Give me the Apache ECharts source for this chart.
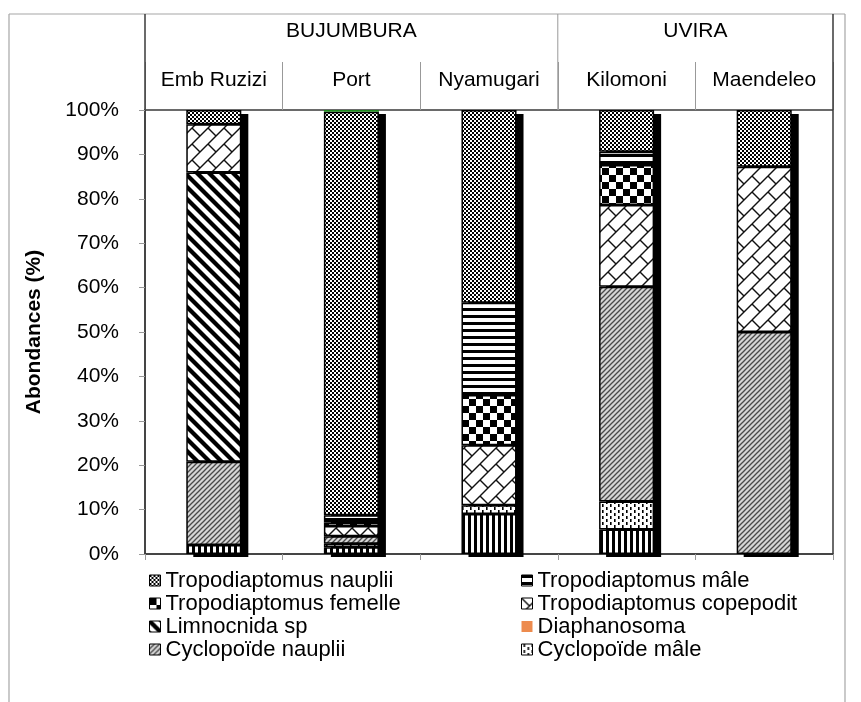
<!DOCTYPE html>
<html><head><meta charset="utf-8">
<script src="https://cdn.jsdelivr.net/npm/echarts@6/dist/echarts.min.js"></script>
<style>html,body{margin:0;padding:0;background:#fff}#c{width:861px;height:702px}</style>
</head><body><div id="c"></div>
<script>
// ---- data (percent) ----
const categories = ['Emb Ruzizi', 'Port', 'Nyamugari', 'Kilomoni', 'Maendeleo'];
const groups = ['BUJUMBURA', 'UVIRA'];
const groupSizes = [3, 2];
const autresCyclo = [2.0, 1.5, 9.0, 5.5, 0];          // bottom, vertical lines (not in legend)
const cyclopoideMale = [0, 0.8, 2.0, 6.3, 0];
const cyclopoideNauplii = [18.8, 1.7, 0, 48.4, 50.0];
const diaphanosoma = [0, 0, 0, 0, 0];
const limnocnida = [65.1, 0, 0, 0, 0];
const tropoCopepodit = [10.9, 2.3, 13.5, 18.4, 37.2];
const tropoFemelle = [0, 0.8, 11.3, 9.0, 0];
const tropoMale = [0, 1.6, 20.8, 3.0, 0];
const tropoNauplii = [3.2, 90.9, 43.4, 9.4, 12.8];
const autres = [0, 0.4, 0, 0, 0];                     // thin green line on top of Port

// ---- patterns ----
function pat(w, h, draw, bg) {
  const c = document.createElement('canvas'); c.width = w; c.height = h;
  const g = c.getContext('2d'); g.fillStyle = bg || '#fff'; g.fillRect(0, 0, w, h);
  draw(g); return { image: c, repeat: 'repeat' };
}
const P = {
  smallChecker: pat(4, 4, g => { g.fillStyle = '#000'; g.fillRect(0, 0, 2, 2); g.fillRect(2, 2, 2, 2); }),
  horiz: pat(4, 7, g => { g.fillStyle = '#000'; g.fillRect(0, 0, 4, 3); }),
  bigChecker: pat(14, 14, g => { g.fillStyle = '#000'; g.fillRect(0, 0, 7, 7); g.fillRect(7, 7, 7, 7); }),
  brick: pat(16, 16, g => {
    g.strokeStyle = '#111'; g.lineWidth = 1.4;
    for (const dx of [-16, 0, 16]) for (const dy of [-16, 0, 16]) {
      g.beginPath(); g.moveTo(0 + dx, 16 + dy); g.lineTo(16 + dx, 0 + dy); g.stroke();
      g.beginPath(); g.moveTo(0 + dx, 0 + dy); g.lineTo(8 + dx, 8 + dy); g.stroke();
    }
  }),
  limn: pat(12, 12, g => {
    g.strokeStyle = '#000'; g.lineWidth = 4.2;
    for (const k of [-1, 0, 1]) { g.beginPath(); g.moveTo(k * 12 - 3, -3); g.lineTo(k * 12 + 15, 15); g.stroke(); }
  }),
  grayDiag: pat(5, 5, g => {
    g.strokeStyle = '#4a4a4a'; g.lineWidth = 1.3;
    for (const k of [-1, 0, 1]) { g.beginPath(); g.moveTo(k * 5 - 1, 6); g.lineTo(k * 5 + 6, -1); g.stroke(); }
  }, '#d6d6d6'),
  dotted: pat(8, 6, g => { g.fillStyle = '#000'; g.fillRect(2, 0, 1.6, 3); g.fillRect(6, 3, 1.6, 3); }),
  vert: pat(6, 4, g => { g.fillStyle = '#000'; g.fillRect(0, 0, 3, 4); })
};

const nz = a => a.map(v => v === 0 ? '-' : v);
function bar(name, data, color, extra) {
  return Object.assign({
    name, type: 'bar', stack: 'total', barWidth: '40%', data: nz(data), z: 3,
    itemStyle: { color, borderColor: '#000', borderWidth: 1.5 }
  }, extra || {});
}
const totals = categories.map((_, i) =>
  [autresCyclo, cyclopoideMale, cyclopoideNauplii, diaphanosoma, limnocnida, tropoCopepodit, tropoFemelle, tropoMale, tropoNauplii, autres]
    .reduce((s, a) => s + a[i], 0));

const FONT = 'Liberation Sans, Arial, sans-serif';
const chart = echarts.init(document.getElementById('c'));
const legendCommon = {
  orient: 'vertical', top: 569, itemWidth: 11, itemHeight: 11, itemGap: 0, padding: 0, icon: 'rect',
  textStyle: { fontSize: 22, lineHeight: 23, color: '#000', fontFamily: FONT },
  itemStyle: { borderColor: '#000', borderWidth: 1 }
};
chart.setOption({
  animation: false,
  backgroundColor: '#fff',
  textStyle: { fontFamily: FONT },
  grid: { left: 145, right: 28, top: 110, bottom: 148, show: true, borderColor: '#3a3a3a', borderWidth: 1.5, backgroundColor: 'transparent' },
  legend: [
    Object.assign({}, legendCommon, { left: 149, data: ['Tropodiaptomus nauplii', 'Tropodiaptomus femelle', 'Limnocnida sp', 'Cyclopoïde nauplii'] }),
    Object.assign({}, legendCommon, { left: 521, data: ['Tropodiaptomus mâle', 'Tropodiaptomus copepodit', { name: 'Diaphanosoma', itemStyle: { borderWidth: 0 } }, 'Cyclopoïde mâle'] })
  ],
  xAxis: [
    { type: 'category', data: categories, position: 'bottom',
      axisLine: { show: true, lineStyle: { color: '#3a3a3a', width: 1.5 } },
      axisTick: { show: true, length: 6, interval: 0, lineStyle: { color: '#999' } },
      axisLabel: { show: false } },
    { type: 'category', data: categories, position: 'top',
      axisLine: { show: false },
      axisTick: { show: true, length: 48, interval: 0, lineStyle: { color: '#999', width: 1 } },
      axisLabel: { show: true, interval: 0, fontSize: 21, color: '#000', margin: 18, lineHeight: 24, fontFamily: FONT } }
  ],
  yAxis: {
    type: 'value', min: 0, max: 100, interval: 10,
    name: 'Abondances (%)', nameLocation: 'middle', nameGap: 100, nameRotate: 90,
    nameTextStyle: { fontSize: 21, fontWeight: 'bold', color: '#000', fontFamily: FONT },
    axisLine: { show: true, lineStyle: { color: '#3a3a3a', width: 1.5 } },
    axisTick: { show: true, length: 6, lineStyle: { color: '#999' } },
    axisLabel: { formatter: '{value}%', fontSize: 21, color: '#000', margin: 26, fontFamily: FONT },
    splitLine: { show: false }
  },
  series: [
    { type: 'custom', z: 1, silent: true, xAxisIndex: 0, data: totals.map((t, i) => [i, t]),
      encode: { x: 0, y: 1 },
      renderItem(params, api) {
        const top = api.coord([api.value(0), api.value(1)]);
        const bot = api.coord([api.value(0), 0]);
        const w = api.size([1, 0])[0] * 0.4;
        return { type: 'rect', shape: { x: top[0] - w / 2 + 7, y: top[1] + 4, width: w, height: bot[1] - top[1] - 1 }, style: { fill: '#000' } };
      } },
    bar('Autres cyclopoïdes', autresCyclo, P.vert),
    bar('Cyclopoïde mâle', cyclopoideMale, P.dotted),
    bar('Cyclopoïde nauplii', cyclopoideNauplii, P.grayDiag),
    bar('Diaphanosoma', diaphanosoma, '#ED8B4E'),
    bar('Limnocnida sp', limnocnida, P.limn),
    bar('Tropodiaptomus copepodit', tropoCopepodit, P.brick),
    bar('Tropodiaptomus femelle', tropoFemelle, P.bigChecker),
    bar('Tropodiaptomus mâle', tropoMale, P.horiz),
    bar('Tropodiaptomus nauplii', tropoNauplii, P.smallChecker),
    bar('Autres', autres, '#1f8a1f', { itemStyle: { color: '#1f8a1f', borderWidth: 0 } })
  ]
});

// ---- header table (positions from the axis scale) ----
const centers = categories.map(c => chart.convertToPixel({ xAxisIndex: 0 }, c));
const band = centers[1] - centers[0];
const leftX = centers[0] - band / 2, rightX = centers[centers.length - 1] + band / 2;
const gfx = [];
const line = (x1, y1, x2, y2, color, w) => gfx.push({ type: 'line', silent: true, z: 10, shape: { x1, y1, x2, y2 }, style: { stroke: color, lineWidth: w || 1 } });
line(9, 14, 845, 14, '#a6a6a6', 1.2);
line(9, 14, 9, 702, '#a6a6a6', 1.2);
line(845, 14, 845, 702, '#a6a6a6', 1.2);
line(leftX, 14, leftX, 110, '#3a3a3a', 1.5);
line(rightX, 14, rightX, 110, '#3a3a3a', 1.5);
let idx = 0;
groups.forEach((gname, gi) => {
  const x0 = centers[idx] - band / 2;
  idx += groupSizes[gi];
  const x1 = centers[idx - 1] + band / 2;
  if (idx < categories.length) line(x1, 14, x1, 110, '#999', 1);
  gfx.push({ type: 'text', silent: true, z: 10, x: (x0 + x1) / 2, y: 31,
    style: { text: gname, fontSize: 21, fill: '#000', fontFamily: FONT, align: 'center', verticalAlign: 'middle' } });
});
chart.setOption({ graphic: gfx });
</script></body></html>
